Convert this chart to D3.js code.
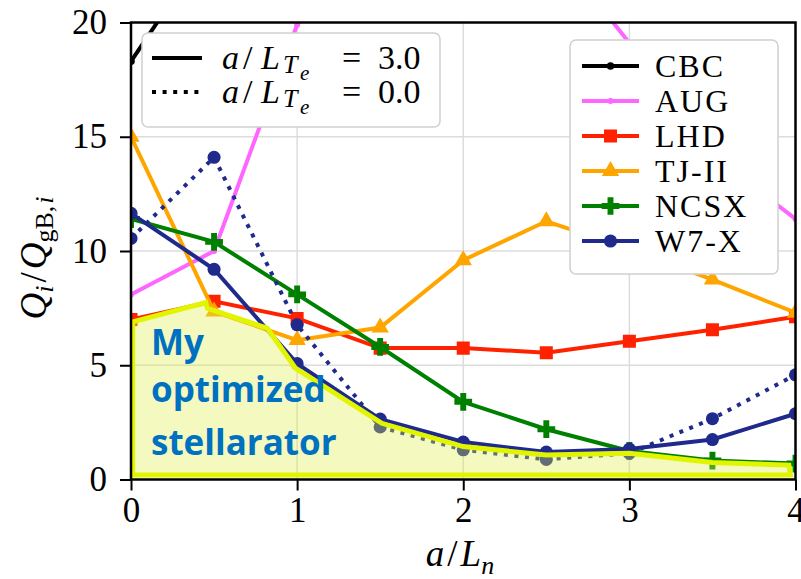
<!DOCTYPE html>
<html>
<head>
<meta charset="utf-8">
<script src="https://cdn.jsdelivr.net/npm/d3@7"></script>
<style>
body { margin: 0; background: #fff; }
</style>
</head>
<body>
<div id="chart"></div>
<script>
// a/L_n values and Q_i/Q_gB,i per device (a/L_Te = 3.0 solid)
var aLn  = [0, 0.5, 1, 1.5, 2, 2.5, 3, 3.5, 4];
var cbc  = [18.3, 23.7, null, null, null, null, null, null, null];
var aug  = [8.1, 10.0, 19.9, 25, 26, 23.7, 19.1, 14.2, 11.4];
var lhd  = [7.0, 7.8, 7.05, 5.75, 5.75, 5.55, 6.05, 6.55, 7.12];
var tj2  = [15.0, 7.35, 6.1, 6.65, 9.6, 11.3, 10.1, 8.75, 7.3];
var ncsx = [11.4, 10.4, 8.1, 5.8, 3.4, 2.2, 1.25, 0.83, 0.7];
var w7x  = [11.65, 9.2, 5.07, 2.64, 1.64, 1.2, 1.33, 1.75, 2.88];
// W7-X at a/L_Te = 0.0 (dotted)
var w7x0 = [10.55, 14.1, 6.77, 2.3, 1.3, 0.88, 1.15, 2.66, 4.58];

var names = ["CBC", "AUG", "LHD", "TJ-II", "NCSX", "W7-X"];
var xTicks = [0, 1, 2, 3, 4];
var yTicks = [0, 5, 10, 15, 20];

// hand-drawn "optimized stellarator" region (data coords)
var optX = [0.01, 0.01, 0.45, 0.46, 0.82, 0.99, 1.51, 2.0, 2.5, 3.0, 3.5, 3.96, 3.97];
var optY = [0.2, 6.9, 7.74, 7.49, 6.62, 4.87, 2.46, 1.44, 1.07, 1.15, 0.74, 0.63, 0.2];
var noteLines = ["My", "optimized", "stellarator"];

var W = 801, H = 579;
var serif = "'Liberation Serif', 'DejaVu Serif', serif";

var svg = d3.select("#chart").append("svg")
    .attr("width", W).attr("height", H);

var x = d3.scaleLinear().domain([0, 4]).range([131, 795.5]);
var y = d3.scaleLinear().domain([0, 20]).range([479.5, 22.5]);

svg.append("clipPath").attr("id", "clip")
  .append("rect")
    .attr("x", x(0)).attr("y", y(20))
    .attr("width", x(4) - x(0)).attr("height", y(0) - y(20));

// grid
var grid = svg.append("g");
grid.selectAll("line.gx").data(xTicks.slice(1, -1)).enter().append("line")
    .attr("x1", d => x(d)).attr("x2", d => x(d))
    .attr("y1", y(0)).attr("y2", y(20))
    .attr("stroke", "#dcdcdc").attr("stroke-width", 1.5);
grid.selectAll("line.gy").data(yTicks.slice(1, -1)).enter().append("line")
    .attr("x1", x(0)).attr("x2", x(4))
    .attr("y1", d => y(d)).attr("y2", d => y(d))
    .attr("stroke", "#dcdcdc").attr("stroke-width", 1.5);

var series = [
  {name: "CBC",   vals: cbc,  color: "#000000", sym: d3.symbolCircle,   size: 45},
  {name: "AUG",   vals: aug,  color: "#ff66ff", sym: d3.symbolCircle,   size: 28},
  {name: "LHD",   vals: lhd,  color: "#ff2200", sym: d3.symbolSquare,   size: 170},
  {name: "TJ-II", vals: tj2,  color: "#ffa500", sym: d3.symbolTriangle, size: 130},
  {name: "NCSX",  vals: ncsx, color: "#008000", sym: d3.symbolCross,    size: 175},
  {name: "W7-X",  vals: w7x,  color: "#1f2a8c", sym: d3.symbolCircle,   size: 135}
];

var plot = svg.append("g").attr("clip-path", "url(#clip)");

function drawSeries(s, dash) {
  var pts = aLn.map(function(a, i) { return [a, s.vals[i]]; });
  var line = d3.line()
      .defined(d => d[1] !== null)
      .x(d => x(d[0])).y(d => y(d[1]));
  plot.append("path")
      .attr("d", line(pts))
      .attr("fill", "none")
      .attr("stroke", s.color)
      .attr("stroke-width", 4)
      .attr("stroke-dasharray", dash || null);
  plot.selectAll(null)
      .data(pts.filter(d => d[1] !== null))
      .enter().append("path")
      .attr("transform", d => "translate(" + x(d[0]) + "," + y(d[1]) + ")")
      .attr("d", d3.symbol().type(s.sym).size(s.size))
      .attr("fill", s.color);
}

series.forEach(function(s) { drawSeries(s); });
drawSeries({vals: w7x0, color: "#1f2a8c", sym: d3.symbolCircle, size: 135}, "4,6.6");

// optimized region overlay
var optPts = optX.map(function(v, i) { return [v, optY[i]]; });
var optLine = d3.line().x(d => x(d[0])).y(d => y(d[1]));
svg.append("path")
    .attr("d", optLine(optPts) + "Z")
    .attr("fill", "#dcee48")
    .attr("fill-opacity", 0.35)
    .attr("stroke", "#e2f500")
    .attr("stroke-width", 5)
    .attr("stroke-linejoin", "miter");

svg.append("text")
    .attr("x", 151).attr("y", 355)
    .attr("font-family", "'Open Sans', sans-serif")
    .attr("font-weight", "bold")
    .attr("font-size", 35)
    .attr("fill", "#0070c0")
  .selectAll("tspan").data(noteLines).enter().append("tspan")
    .attr("x", 151)
    .attr("dy", (d, i) => i == 0 ? 0 : (i == 1 ? 47 : 53))
    .text(d => d);

// axes
var axL = svg.append("g").attr("transform", "translate(" + x(0) + ",0)");
axL.call(d3.axisLeft(y).tickValues(d3.range(0, 21, 1)).tickSize(5).tickFormat(""));
axL.call(d3.axisLeft(y).tickValues(yTicks).tickSize(11).tickPadding(13).tickFormat(d3.format("d")));
var axB = svg.append("g").attr("transform", "translate(0," + y(0) + ")");
axB.call(d3.axisBottom(x).tickValues(d3.range(0, 4.01, 0.2)).tickSize(5).tickFormat(""));
axB.call(d3.axisBottom(x).tickValues(xTicks).tickSize(11).tickPadding(7).tickFormat(d3.format("d")));
svg.selectAll(".domain").remove();
svg.selectAll(".tick line").attr("stroke", "#000").attr("stroke-width", 2);
svg.selectAll(".tick text").attr("font-family", serif).attr("font-size", 35).attr("fill", "#000");

svg.append("rect")
    .attr("x", x(0)).attr("y", y(20))
    .attr("width", x(4) - x(0)).attr("height", y(0) - y(20))
    .attr("fill", "none").attr("stroke", "#000").attr("stroke-width", 2.5);

// axis labels
var xl = svg.append("text").attr("x", 460).attr("y", 566)
    .attr("text-anchor", "middle").attr("font-family", serif).attr("font-size", 37);
xl.append("tspan").attr("font-style", "italic").text("a");
xl.append("tspan").attr("dx", 3).text("/");
xl.append("tspan").attr("font-style", "italic").attr("dx", 3).text("L");
xl.append("tspan").attr("font-style", "italic").attr("font-size", 26).attr("dy", 8).text("n");

var yl = svg.append("text").attr("transform", "translate(46,258) rotate(-90)")
    .attr("text-anchor", "middle").attr("font-family", serif).attr("font-size", 37);
yl.append("tspan").attr("font-style", "italic").text("Q");
yl.append("tspan").attr("font-style", "italic").attr("font-size", 26).attr("dy", 7).text("i");
yl.append("tspan").attr("dy", -7).attr("dx", 3).text("/");
yl.append("tspan").attr("font-style", "italic").attr("dx", 3).text("Q");
yl.append("tspan").attr("font-size", 26).attr("dy", 7).text("gB");
yl.append("tspan").attr("font-size", 26).text(",");
yl.append("tspan").attr("font-style", "italic").attr("font-size", 26).attr("dx", 2).text("i");

// legend: electron temperature gradient
var lg1 = svg.append("g");
lg1.append("rect").attr("x", 142).attr("y", 33).attr("width", 298).attr("height", 94)
    .attr("rx", 6).attr("fill", "#fff")
    .attr("stroke", "#d0d0d0").attr("stroke-width", 1.5);
var lteVals = ["3.0", "0.0"];
lteVals.forEach(function(v, i) {
  var cy = 58 + i * 34;
  lg1.append("line").attr("x1", 152).attr("x2", 202).attr("y1", cy).attr("y2", cy)
      .attr("stroke", "#000").attr("stroke-width", 4)
      .attr("stroke-dasharray", i == 1 ? "4,6.6" : null);
  var t = lg1.append("text").attr("y", cy + 11).attr("font-family", serif).attr("font-size", 34);
  t.append("tspan").attr("x", 222).attr("font-style", "italic").text("a");
  t.append("tspan").attr("x", 243).text("/");
  t.append("tspan").attr("x", 261).attr("font-style", "italic").text("L");
  t.append("tspan").attr("x", 283).attr("dy", 4).attr("font-style", "italic").attr("font-size", 26).text("T");
  t.append("tspan").attr("x", 300).attr("dy", 7).attr("font-style", "italic").attr("font-size", 21).text("e");
  t.append("tspan").attr("x", 342).attr("dy", -11).text("=");
  t.append("tspan").attr("x", 378).text(v);
});

// legend: devices
var lg2 = svg.append("g");
lg2.append("rect").attr("x", 570).attr("y", 40).attr("width", 208).attr("height", 234)
    .attr("rx", 6).attr("fill", "#fff")
    .attr("stroke", "#d0d0d0").attr("stroke-width", 1.5);
series.forEach(function(s, i) {
  var cy = 66 + i * 35;
  lg2.append("line").attr("x1", 582).attr("x2", 639).attr("y1", cy).attr("y2", cy)
      .attr("stroke", s.color).attr("stroke-width", 4);
  lg2.append("path").attr("transform", "translate(610.5," + cy + ")")
      .attr("d", d3.symbol().type(s.sym).size(s.size)).attr("fill", s.color);
  lg2.append("text").attr("x", 655).attr("y", cy + 11)
      .attr("font-family", serif).attr("font-size", 32)
      .attr("letter-spacing", 2).text(names[i]);
});
</script>
</body>
</html>
